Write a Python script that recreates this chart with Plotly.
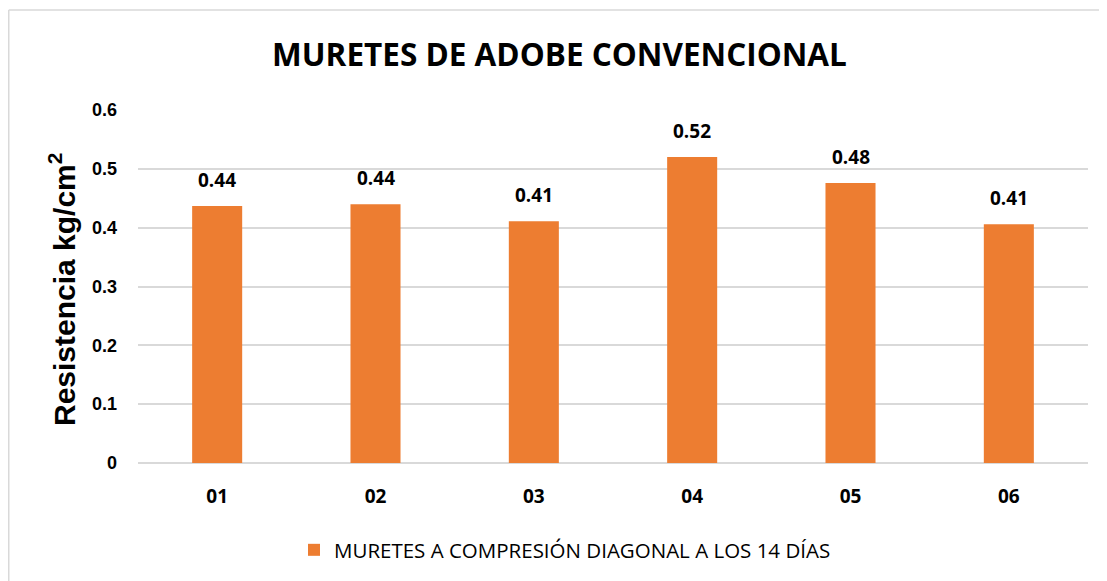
import plotly.graph_objects as go

categories = ["01", "02", "03", "04", "05", "06"]
values = [0.437, 0.440, 0.411, 0.520, 0.476, 0.406]
series_name = "MURETES A COMPRESIÓN DIAGONAL A LOS 14 DÍAS"
title_text = "MURETES DE ADOBE CONVENCIONAL"
y_title = "Resistencia kg/cm<sup>2</sup>"
y_ticks = [0, 0.1, 0.2, 0.3, 0.4, 0.5, 0.6]

W, H = 1107, 581
OFF = 8  # page body margin offset
L, R, T, B = 138 - OFF, 1088 - OFF, 110 - OFF, 463 - OFF


def px_x(x):
    return (x - OFF - L) / (R - L)


def px_y(y):
    return (B - (y - OFF)) / (B - T)


fig = go.Figure()
fig.add_trace(go.Bar(
    x=categories, y=values, name=series_name,
    marker=dict(color="#ED7D31", line=dict(width=0)),
    width=0.316,
    showlegend=True,
))

# data labels (category index positions on the category axis)
for i, v in enumerate(values):
    fig.add_annotation(
        x=i, y=v, xref="x", yref="y", text=f"<b>{v:.2f}</b>",
        showarrow=False, yanchor="bottom", yshift=11,
        font=dict(family="Open Sans", size=19, color="#000000"),
    )

# y-axis title
fig.add_annotation(
    x=px_x(62), y=px_y(290), xref="paper", yref="paper",
    text=f"<b>{y_title}</b>", textangle=-90, showarrow=False,
    xanchor="center", yanchor="middle",
    font=dict(family="Liberation Sans, Arial", size=30, color="#000000"),
)

# chart frame
fx = (0.75 - L) / (R - L)
fy = (B - (10 - OFF)) / (B - T)
fx2 = (W + 5 - L) / (R - L)
fy2 = (B - (H + 5)) / (B - T)
fig.add_shape(type="line", xref="paper", yref="paper", x0=fx, x1=fx, y0=fy, y1=fy2,
              line=dict(color="#D9D9D9", width=1.5))
fig.add_shape(type="line", xref="paper", yref="paper", x0=fx, x1=fx2, y0=fy, y1=fy,
              line=dict(color="#D9D9D9", width=1.5))

fig.update_layout(
    width=W, height=H,
    margin=dict(l=L, r=W - R, t=T, b=H - B, pad=0),
    paper_bgcolor="white", plot_bgcolor="white",
    title=dict(text=f"<b>{title_text}</b>", x=(559.5 - OFF) / W, xanchor="center",
               xref="container", y=1 - (55 - OFF) / H, yanchor="middle", yref="container",
               font=dict(family="Open Sans", size=31.5, color="#000000")),
    bargap=0.684,
    legend=dict(orientation="h", x=px_x(565), xanchor="center",
                y=px_y(550), yanchor="middle",
                font=dict(family="Open Sans", size=20.5, color="#000000"),
                itemwidth=30),
)
fig.update_xaxes(
    type="category", range=[-0.5, 5.5],
    showgrid=False, showline=False, zeroline=False,
    ticks="", ticklabelstandoff=20,
    tickfont=dict(family="Open Sans", size=19, color="#000000", weight="bold"),
)
fig.update_yaxes(
    range=[0, 0.6], tickvals=y_ticks, ticktext=[f"<b>{t:g}</b>" for t in y_ticks],
    showgrid=True, gridcolor="#D9D9D9", gridwidth=1.5,
    zeroline=True, zerolinecolor="#D9D9D9", zerolinewidth=1.5,
    showline=False, ticks="", ticklabelstandoff=20,
    tickfont=dict(family="Liberation Sans, Arial", size=18, color="#000000"),
)

fig.write_html("out.html")
